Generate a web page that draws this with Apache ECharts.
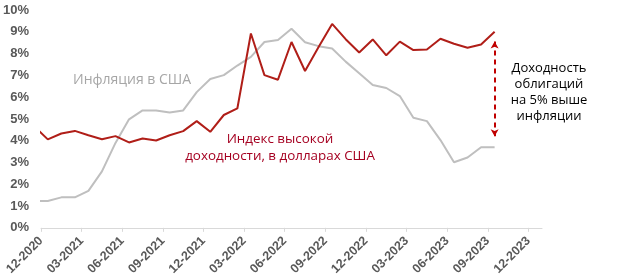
<!DOCTYPE html>
<html>
<head>
<meta charset="utf-8">
<script src="https://cdn.jsdelivr.net/npm/echarts@6/dist/echarts.min.js"></script>
<style>
html,body{margin:0;padding:0;background:#fff;}
#chart{width:624px;height:278px;}
</style>
</head>
<body>
<div id="chart"></div>
<script>
// Monthly observations (mid-month), first one partly outside the axis range
const months = ['11-2020','12-2020','01-2021','02-2021','03-2021','04-2021','05-2021','06-2021','07-2021','08-2021','09-2021','10-2021','11-2021','12-2021',
  '01-2022','02-2022','03-2022','04-2022','05-2022','06-2022','07-2022','08-2022','09-2022','10-2022','11-2022','12-2022',
  '01-2023','02-2023','03-2023','04-2023','05-2023','06-2023','07-2023','08-2023','09-2023'];
const inflation = [1.23,1.23,1.40,1.40,1.70,2.59,3.90,4.98,5.39,5.39,5.29,5.39,6.23,6.83,
  7.01,7.45,7.85,8.53,8.62,9.14,8.52,8.34,8.23,7.63,7.10,6.56,
  6.42,6.05,5.05,4.90,4.03,3.01,3.23,3.70,3.70];
const highYield = [4.66,4.06,4.33,4.45,4.25,4.07,4.21,3.92,4.10,4.01,4.25,4.44,4.90,4.41,
  5.18,5.48,8.92,7.01,6.80,8.53,7.20,8.30,9.36,8.66,8.05,8.65,
  7.92,8.55,8.16,8.19,8.68,8.45,8.27,8.42,9.00];
const tickLabels = ['12-2020','03-2021','06-2021','09-2021','12-2021','03-2022','06-2022','09-2022','12-2022','03-2023','06-2023','09-2023','12-2023'];
const yTicks = [0,1,2,3,4,5,6,7,8,9,10];

// x position in months counted from the 12-2020 tick; observations sit mid-month
const xOf = i => i - 1 + 0.5;
const tickPos = tickLabels.map((_, i) => i * 3);
const toPairs = arr => arr.map((v, i) => [xOf(i), v]);

const last = months.length - 1;
const chart = echarts.init(document.getElementById('chart'));
const axisColor = '#595959';
chart.setOption({
  animation: false,
  grid: { left: 40, right: 82, top: 10, bottom: 48, containLabel: false },
  xAxis: {
    type: 'value', min: 0, max: 37, interval: 3,
    axisLine: { show: true, lineStyle: { color: '#D9D9D9', width: 1 } },
    axisTick: { show: true, length: 4, lineStyle: { color: '#D9D9D9' }, customValues: tickPos },
    splitLine: { show: false },
    axisLabel: {
      customValues: tickPos,
      rotate: 45, margin: 11,
      color: axisColor, fontWeight: 'bold', fontSize: 12.5, fontFamily: 'Liberation Sans, Arial, sans-serif',
      formatter: v => tickLabels[Math.round(v / 3)] || ''
    }
  },
  yAxis: {
    type: 'value', min: yTicks[0], max: yTicks[yTicks.length - 1], interval: 1,
    axisLine: { show: false }, axisTick: { show: false }, splitLine: { show: false },
    axisLabel: { margin: 12, color: axisColor, fontWeight: 'bold', fontSize: 13, fontFamily: 'Liberation Sans, Arial, sans-serif', formatter: '{value}%' }
  },
  series: [
    {
      name: 'Инфляция в США', type: 'line', data: toPairs(inflation),
      showSymbol: false, symbol: 'none', clip: true,
      lineStyle: { color: '#BFBFBF', width: 2 }
    },
    {
      name: 'Индекс высокой доходности, в долларах США', type: 'line', data: toPairs(highYield),
      showSymbol: false, symbol: 'none', clip: true,
      lineStyle: { color: '#B01E18', width: 2 },
      markLine: {
        silent: true, symbol: ['arrow', 'arrow'], symbolSize: [6, 7],
        label: { show: false },
        lineStyle: { type: [5, 4], color: '#C00000', width: 2 },
        data: [[
          { coord: [xOf(last), highYield[last] - 0.45] },
          { coord: [xOf(last), inflation[last] + 0.5] }
        ]]
      }
    }
  ],
  graphic: [
    { type: 'text', x: 73, y: 73, style: { text: 'Инфляция в США', fill: '#A6A6A6', fontSize: 14, fontFamily: 'Open Sans, sans-serif' } },
    { type: 'text', x: 280, y: 131, style: { text: 'Индекс высокой\nдоходности, в долларах США', align: 'center', verticalAlign: 'top', fill: '#A50021', fontSize: 13.4, lineHeight: 17, fontFamily: 'Open Sans, sans-serif' } },
    { type: 'text', x: 549, y: 60, style: { text: 'Доходность\nоблигаций\nна 5% выше\nинфляции', align: 'center', verticalAlign: 'top', fill: '#000000', fontSize: 13, lineHeight: 16, fontFamily: 'Open Sans, sans-serif' } }
  ]
});
</script>
</body>
</html>
